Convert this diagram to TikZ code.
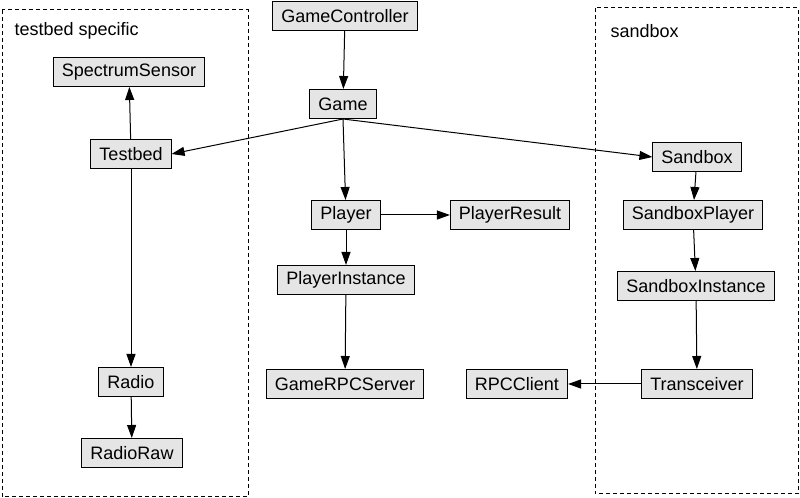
\documentclass[tikz,border=0pt]{standalone}
\usepackage{fontspec}
\setmainfont{Liberation Sans}
\usetikzlibrary{arrows.meta}

\begin{document}
\begin{tikzpicture}[x=0.75pt,y=-0.75pt,>={Triangle[length=9.75pt,width=6.75pt]},
  every path/.style={line width=0.75pt},
  cls/.style={draw,fill=black!10,minimum height=21.75pt,inner xsep=6.4pt,inner ysep=0pt,font=\fontsize{13.5}{16}\selectfont},
  lbl/.style={anchor=west,inner sep=0pt,font=\fontsize{13.5}{16}\selectfont},
  grp/.style={dash pattern=on 3pt off 2.25pt}]
\useasboundingbox (0,0) rectangle (800,498);
% clusters
\draw[grp](2,10) rectangle (248,497);
\draw[grp](595,8) rectangle (798,494);
\node[lbl] (tbl) at (14,31) {testbed specific};
\node[lbl] (sbl) at (610,31) {sandbox};
% classes
\node[cls] (ctrl) at (345,16) {GameController};
\node[cls] (game) at (343,104) {Game};
\node[cls] (spec) at (129,72) {SpectrumSensor};
\node[cls] (tb) at (131,154) {Testbed};
\node[cls] (radio) at (131,382) {Radio};
\node[cls] (raw) at (132,453) {RadioRaw};
\node[cls] (player) at (346,215) {Player};
\node[cls] (result) at (510,215) {PlayerResult};
\node[cls] (pinst) at (346,280) {PlayerInstance};
\node[cls] (server) at (345,384) {GameRPCServer};
\node[cls] (client) at (517,384) {RPCClient};
\node[cls] (sb) at (697,157) {Sandbox};
\node[cls] (sbp) at (693,215) {SandboxPlayer};
\node[cls] (sbi) at (696,286) {SandboxInstance};
\node[cls] (trx) at (697,384) {Transceiver};
% edges
\draw[->](ctrl)--(game);
\draw[->](game.south)--(tb.east);
\draw[->](game.south)--(sb.west);
\draw[->](game.south)--(player);
\draw[->](tb)--(spec);
\draw[->](tb)--(radio);
\draw[->](radio)--(raw);
\draw[->](player)--(result);
\draw[->](player)--(pinst);
\draw[->](pinst)--(server);
\draw[->](sb)--(sbp);
\draw[->](sbp)--(sbi);
\draw[->](sbi)--(trx);
\draw[->](trx)--(client);
\end{tikzpicture}
\end{document}
